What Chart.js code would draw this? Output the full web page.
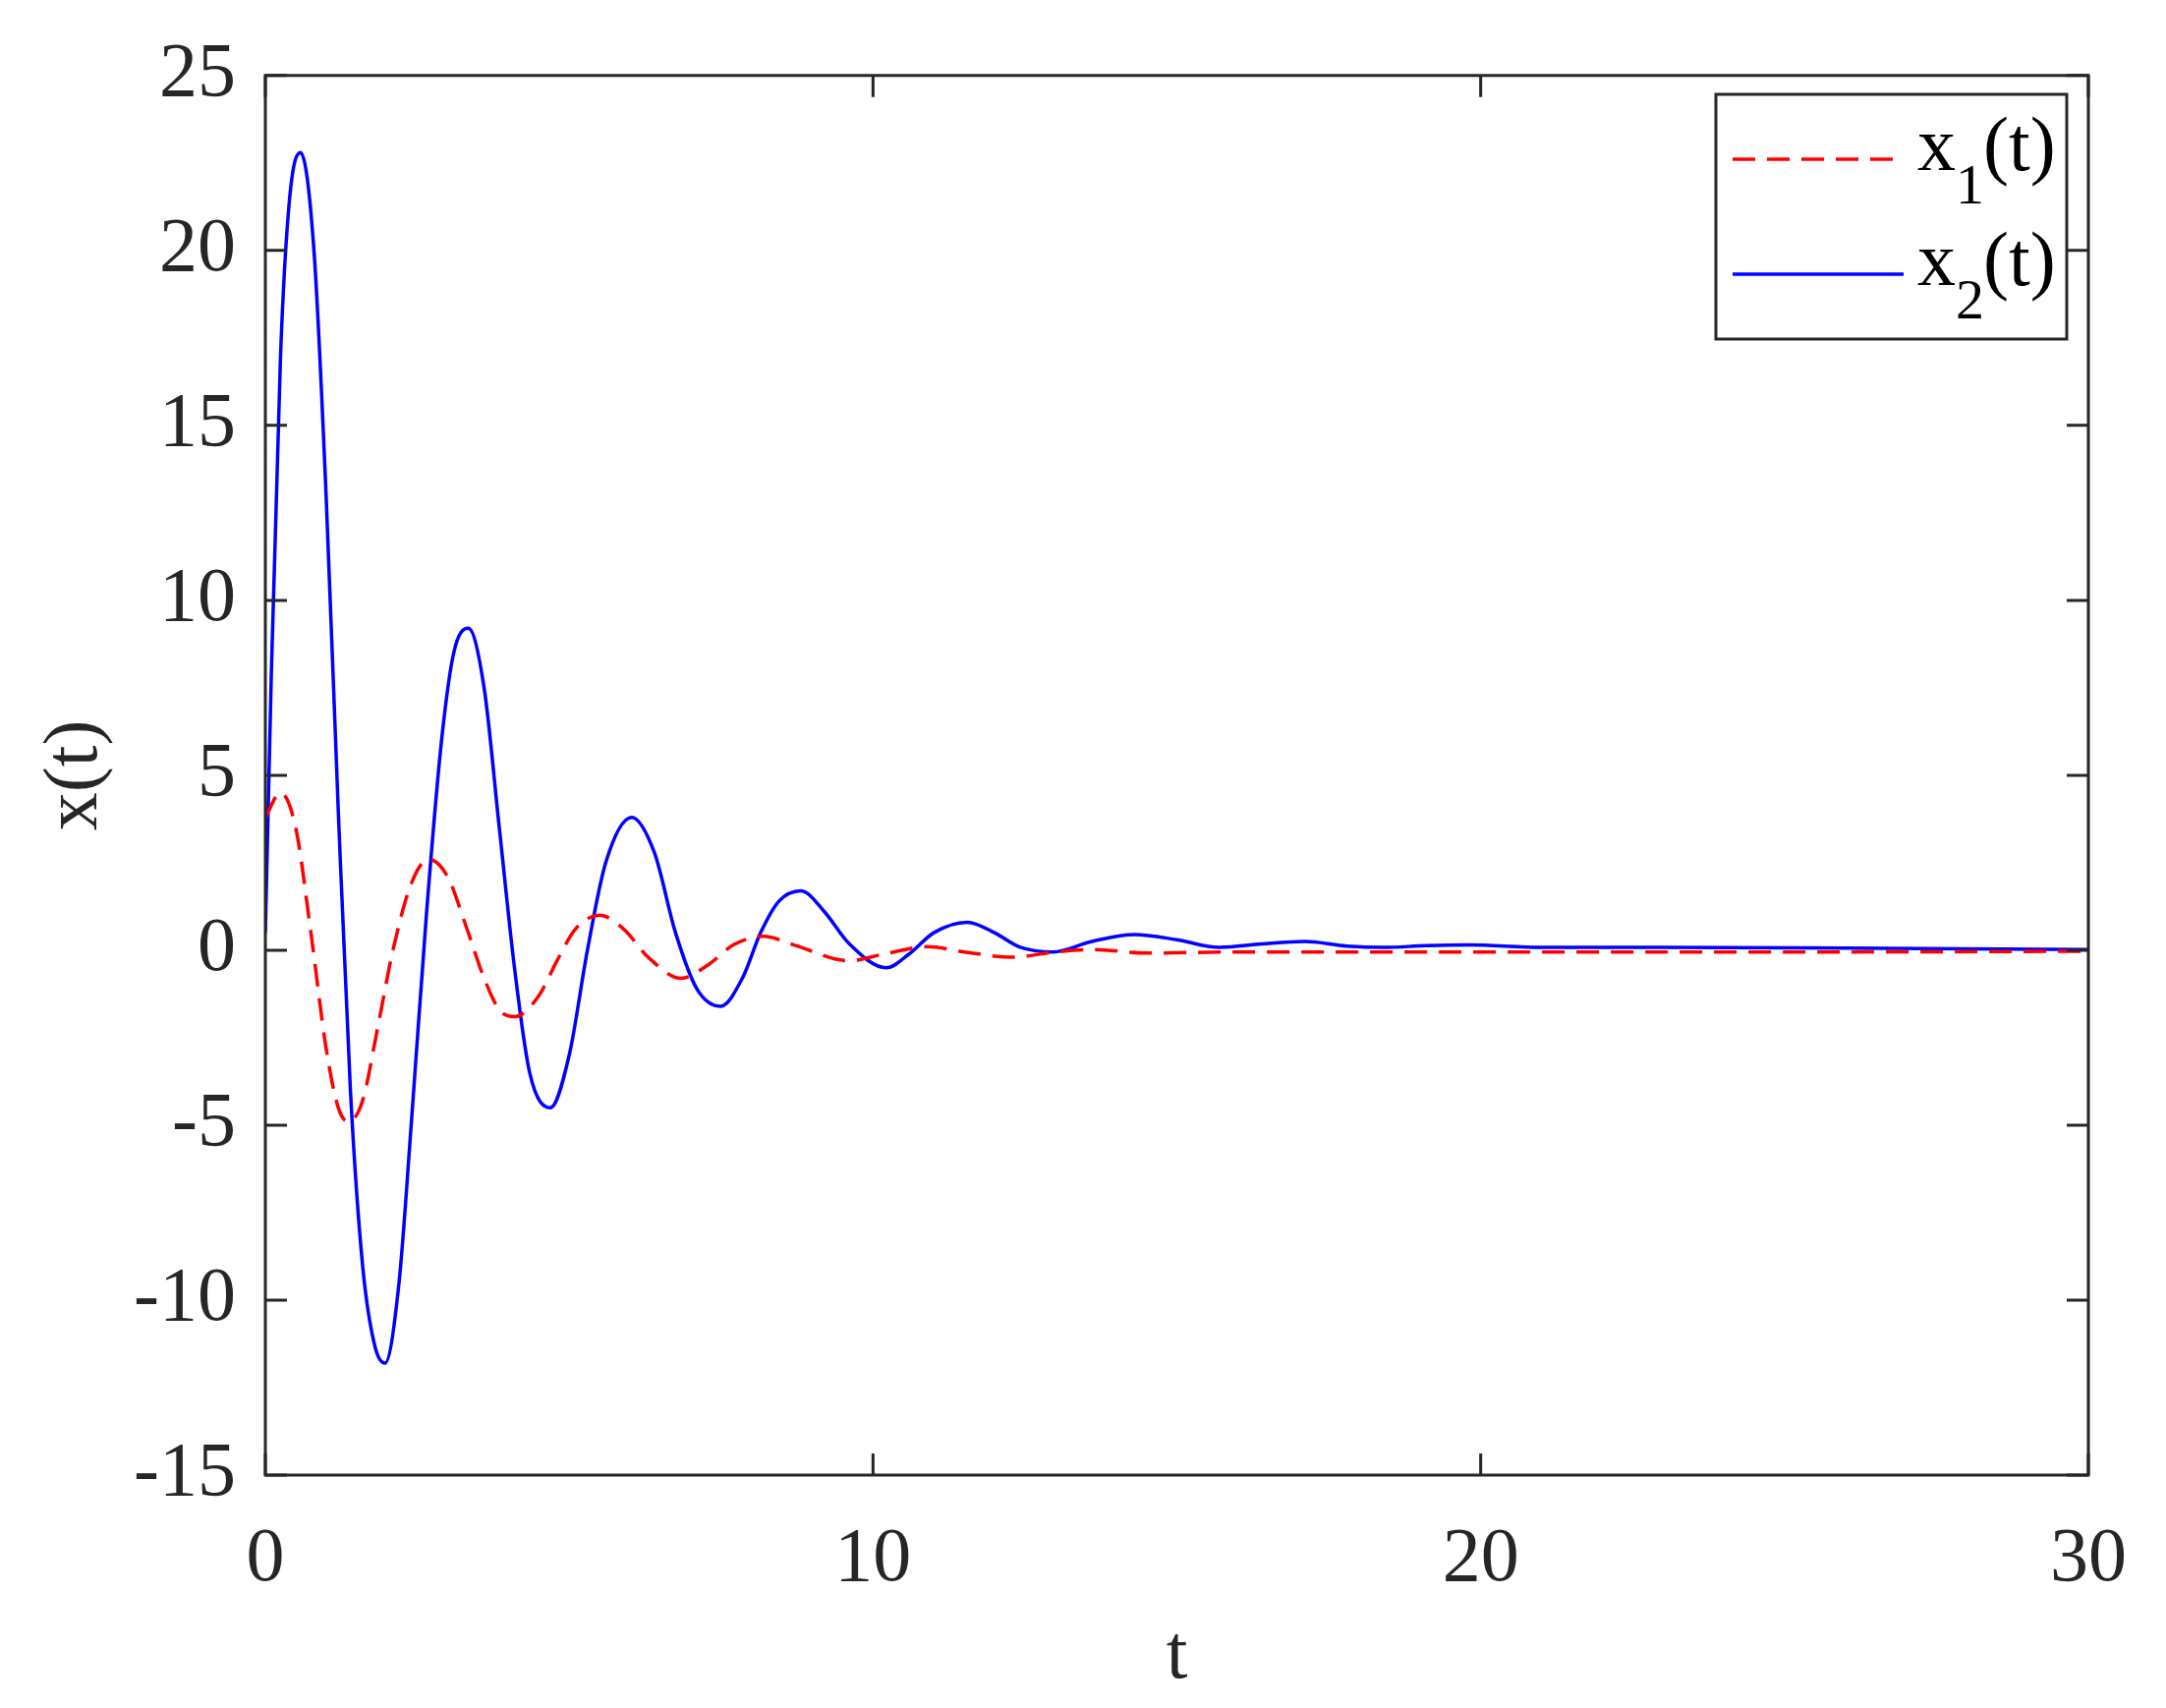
<!DOCTYPE html>
<html><head><meta charset="utf-8">
<script src="https://cdn.jsdelivr.net/npm/chart.js@4/dist/chart.umd.min.js"></script>
<style>html,body{margin:0;padding:0;background:#fff}#w{width:2204px;height:1738px}</style>
</head><body><div id="w"><canvas id="c"></canvas></div>
<script>
const xTicks=[0,10,20,30];
const yTicks=[-15,-10,-5,0,5,10,15,20,25];
const t2=[0,0.1,0.25,0.4,0.58,0.8,1.0,1.2,1.4,1.6,1.8,1.97,2.2,2.4,2.65,2.9,3.1,3.34,3.6,3.85,4.1,4.35,4.69,5.0,5.3,5.6,6.03,6.4,6.75,7.1,7.49,7.85,8.15,8.45,8.81,9.2,9.6,10.22,10.6,11.0,11.55,12.0,12.4,12.96,13.6,14.3,15.0,15.7,16.4,17.1,17.8,18.4,19.1,19.8,21,23,26,30];
const x2=[0.5,8,17,21.5,22.8,20,13,4,-4,-9,-11.3,-11.8,-9.5,-5,1,6,8.5,9.2,7.5,3.5,-0.5,-3.5,-4.5,-3,0,2.5,3.8,2.8,0.5,-1.1,-1.6,-0.8,0.5,1.4,1.7,1.1,0.2,-0.5,-0.1,0.5,0.8,0.5,0.1,-0.05,0.25,0.45,0.3,0.08,0.18,0.25,0.12,0.08,0.13,0.15,0.08,0.08,0.06,0.02];
const t1=[0,0.25,0.5,0.75,1.0,1.2,1.37,1.6,1.85,2.1,2.4,2.69,3.0,3.3,3.6,3.85,4.1,4.5,4.8,5.1,5.5,5.9,6.3,6.84,7.3,7.7,8.2,8.7,9.6,10.2,10.9,11.5,12.3,13,13.6,14.5,16,20,25,30];
const x1=[3.8,4.5,3.5,0.5,-2.8,-4.5,-4.9,-4.3,-2.2,0,1.9,2.6,2.1,0.7,-0.8,-1.7,-1.9,-1.3,-0.3,0.6,1.0,0.6,-0.2,-0.8,-0.4,0.15,0.4,0.15,-0.3,-0.1,0.1,-0.05,-0.2,-0.05,0.02,-0.08,-0.05,-0.05,-0.05,-0.03];
const F="'Liberation Serif', serif", C="#262626";
const pts=(t,v)=>t.map((a,i)=>({x:a,y:v[i]}));
const frame={id:'frame',afterDatasetsDraw(ch){
 const g=ch.ctx,a=ch.chartArea,sx=ch.scales.x,sy=ch.scales.y,L=22;
 g.save();g.strokeStyle=C;g.lineWidth=3;
 g.strokeRect(a.left,a.top,a.right-a.left,a.bottom-a.top);
 g.beginPath();
 xTicks.forEach(v=>{const p=sx.getPixelForValue(v);g.moveTo(p,a.bottom);g.lineTo(p,a.bottom-L);g.moveTo(p,a.top);g.lineTo(p,a.top+L);});
 yTicks.forEach(v=>{const p=sy.getPixelForValue(v);g.moveTo(a.left,p);g.lineTo(a.left+L,p);g.moveTo(a.right,p);g.lineTo(a.right-L,p);});
 g.stroke();
 g.fillStyle='#fff';g.fillRect(1746,96,357,249);
 g.strokeRect(1746,96,357,249);
 g.lineWidth=3.5;g.strokeStyle='red';g.setLineDash([23,12]);g.beginPath();g.moveTo(1763,162);g.lineTo(1937,162);g.stroke();
 g.setLineDash([]);g.strokeStyle='blue';g.beginPath();g.moveTo(1763,279);g.lineTo(1937,279);g.stroke();
 g.fillStyle='#000';g.textBaseline='alphabetic';
 [[173,'1'],[290,'2']].forEach(([b,s])=>{g.font='78px '+F;g.fillText('x',1951,b);g.font='58px '+F;g.fillText(s,1990,b+34);g.font='78px '+F;g.fillText('(t)',2018,b);});
 g.restore();}};
new Chart(document.getElementById('c'),{type:'line',
 data:{datasets:[
  {label:'x1(t)',data:pts(t1,x1),borderColor:'red',borderWidth:3.5,borderDash:[23,12],pointRadius:0,cubicInterpolationMode:'monotone'},
  {label:'x2(t)',data:pts(t2,x2),borderColor:'blue',borderWidth:3.5,pointRadius:0,cubicInterpolationMode:'monotone'}]},
 options:{responsive:true,maintainAspectRatio:false,animation:false,
  layout:{padding:{left:0,top:24,right:34,bottom:0}},
  plugins:{legend:{display:false},tooltip:{enabled:false}},
  scales:{
   x:{type:'linear',min:0,max:30,afterBuildTicks:s=>{s.ticks=xTicks.map(v=>({value:v}));},
    afterFit:s=>{s.height=237;},
    grid:{drawOnChartArea:false,drawTicks:false},border:{display:false},
    ticks:{font:{family:F,size:78},color:C,padding:40,maxRotation:0},
    title:{display:true,text:'t',font:{family:F,size:78},color:C,padding:{top:0,bottom:5}}},
   y:{min:-15,max:25,afterBuildTicks:s=>{s.ticks=yTicks.map(v=>({value:v}));},
    afterFit:s=>{s.width=270;},
    grid:{drawOnChartArea:false,drawTicks:false},border:{display:false},
    ticks:{font:{family:F,size:78},color:C,padding:30},
    title:{display:true,text:'x(t)',font:{family:F,size:78},color:C,padding:{top:31,bottom:0}}}}},
 plugins:[frame]});
</script></body></html>
